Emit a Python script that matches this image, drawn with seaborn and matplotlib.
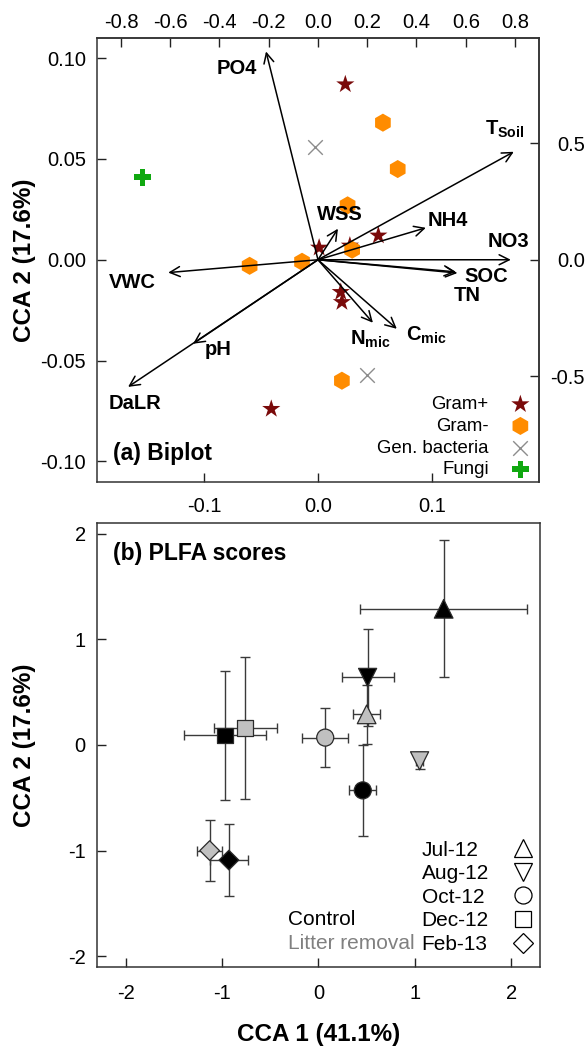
import matplotlib.pyplot as plt
import pandas as pd
import seaborn as sns
from matplotlib.lines import Line2D

# (a) Biplot: PLFA species scores (bottom / left axes)
gram_pos_x = [0.024, 0.001, 0.028, 0.053, 0.020, 0.021, -0.041]
gram_pos_y = [0.087, 0.006, 0.007, 0.012, -0.016, -0.021, -0.074]
gram_neg_x = [0.057, 0.070, 0.026, 0.030, -0.014, -0.060, 0.021]
gram_neg_y = [0.068, 0.045, 0.027, 0.005, -0.001, -0.003, -0.060]
gen_bact_x = [-0.003, 0.043]
gen_bact_y = [0.056, -0.057]
fungi_x = [-0.154]
fungi_y = [0.041]

# environmental vectors (top / right axes)
env_labels = ["PO4", r"$\mathbf{T_{Soil}}$", "WSS", "NH4", "NO3", "SOC", "TN",
              r"$\mathbf{N_{mic}}$", r"$\mathbf{C_{mic}}$", "VWC", "pH", "DaLR"]
env_x = [-0.211, 0.795, 0.081, 0.438, 0.783, 0.566, 0.560, 0.223, 0.320, -0.608, -0.507, -0.771]
env_y = [0.893, 0.463, 0.133, 0.137, 0.000, -0.057, -0.052, -0.270, -0.296, -0.055, -0.360, -0.545]
label_x = [-0.329, 0.759, 0.089, 0.529, 0.775, 0.684, 0.607, 0.211, 0.438, -0.755, -0.406, -0.742]
label_y = [0.820, 0.558, 0.193, 0.169, 0.077, -0.072, -0.153, -0.343, -0.326, -0.099, -0.386, -0.618]

# (b) PLFA scores, mean +- error per sampling date
months = ["Jul-12", "Aug-12", "Oct-12", "Dec-12", "Feb-13"]
ctrl_x = [1.30, 0.51, 0.46, -0.97, -0.93]
ctrl_y = [1.29, 0.64, -0.43, 0.09, -1.09]
ctrl_xerr = [0.87, 0.27, 0.14, 0.43, 0.20]
ctrl_yerr = [0.65, 0.46, 0.43, 0.61, 0.34]
litter_x = [0.50, 1.05, 0.07, -0.76, -1.13]
litter_y = [0.29, -0.15, 0.07, 0.16, -1.00]
litter_xerr = [0.14, 0.04, 0.24, 0.33, 0.13]
litter_yerr = [0.28, 0.08, 0.28, 0.67, 0.29]

# ratio between biplot axes (primary) and vector axes (secondary)
SX = 0.2162
SY = 0.1157

sns.set_style("ticks")
plt.rcParams["font.family"] = ["Liberation Sans", "DejaVu Sans"]
plt.rcParams["mathtext.fontset"] = "custom"
plt.rcParams["mathtext.rm"] = "Liberation Sans"
plt.rcParams["mathtext.bf"] = "Liberation Sans:bold"
plt.rcParams["axes.unicode_minus"] = False
plt.rcParams["text.color"] = "black"
plt.rcParams["axes.labelcolor"] = "black"

fig = plt.figure(figsize=(5.87, 10.47), dpi=100)
ax1 = fig.add_axes([0.1652, 0.5401, 0.7530, 0.4236])
ax2 = fig.add_axes([0.1652, 0.0767, 0.7547, 0.4235])

TICK = dict(direction="in", length=6.5, width=1, labelsize=14.5,
            color="#222222", labelcolor="black")
SPINE = "#333333"
LAB = dict(fontsize=17.5, fontweight="bold")

# ---------- (a) Biplot ----------
sns.scatterplot(x=gram_pos_x, y=gram_pos_y, marker="*", s=190, color="#7a0a0a",
                edgecolor="none", label="Gram+", ax=ax1, zorder=3)
sns.scatterplot(x=gram_neg_x, y=gram_neg_y, marker="h", s=170, color="#ff8c00",
                edgecolor="none", label="Gram-", ax=ax1, zorder=3)
sns.scatterplot(x=gen_bact_x, y=gen_bact_y, marker="x", s=110, color="#8c8c8c",
                linewidth=1, label="Gen. bacteria", ax=ax1, zorder=3)
sns.scatterplot(x=fungi_x, y=fungi_y, marker="P", s=150, color="#10a810",
                edgecolor="none", label="Fungi", ax=ax1, zorder=3)

for vx, vy, lab, tx, ty in zip(env_x, env_y, env_labels, label_x, label_y):
    ax1.annotate("", xy=(vx * SX, vy * SY), xytext=(0, 0),
                 arrowprops=dict(arrowstyle="->", lw=1.1, color="black",
                                 mutation_scale=18, shrinkA=0, shrinkB=0), zorder=4)
    ax1.text(tx * SX, ty * SY, lab, ha="center", va="center",
             fontsize=14.5, fontweight="bold", zorder=5)

ax1.set_xlim(-0.194, 0.194)
ax1.set_ylim(-0.110, 0.110)
ax1.set_xticks([-0.1, 0.0, 0.1])
ax1.set_xticklabels(["-0.1", "0.0", "0.1"])
ax1.set_yticks([-0.10, -0.05, 0.0, 0.05, 0.10])
ax1.set_yticklabels(["-0.10", "-0.05", "0.00", "0.05", "0.10"])
ax1.tick_params(axis="x", pad=11, **TICK)
ax1.tick_params(axis="y", pad=8, **TICK)
ax1.set_xlabel("")
ax1.set_ylabel("CCA 2 (17.6%)", **LAB)
ax1.yaxis.set_label_coords(-0.137, 0.5)

top = ax1.secondary_xaxis("top", functions=(lambda v: v / SX, lambda v: v * SX))
top.set_xticks([-0.8, -0.6, -0.4, -0.2, 0.0, 0.2, 0.4, 0.6, 0.8])
top.set_xticklabels(["-0.8", "-0.6", "-0.4", "-0.2", "0.0", "0.2", "0.4", "0.6", "0.8"])
top.tick_params(pad=4.5, **TICK)
right = ax1.secondary_yaxis("right", functions=(lambda v: v / SY, lambda v: v * SY))
right.set_yticks([-0.5, 0.0, 0.5])
right.set_yticklabels(["-0.5", "0.0", "0.5"])
right.tick_params(pad=33, **TICK)
plt.setp(right.get_yticklabels(), ha="right")
for sp in list(ax1.spines.values()) + [top.spines["top"], right.spines["right"]]:
    sp.set_color(SPINE)
    sp.set_linewidth(1.1)

ax1.legend(loc="lower right", markerfirst=False, frameon=False, fontsize=13.4,
           labelspacing=0.25, handletextpad=1.2, handlelength=1.0,
           borderpad=0.2, borderaxespad=0.3, bbox_to_anchor=(1.0, -0.0135))
ax1.text(0.036, 0.064, "(a) Biplot", transform=ax1.transAxes, fontsize=16.5,
         fontweight="bold", ha="left", va="center")

# ---------- (b) PLFA scores ----------
df = pd.DataFrame({
    "treatment": ["Control"] * 5 + ["Litter removal"] * 5,
    "month": months * 2,
    "x": ctrl_x + litter_x,
    "y": ctrl_y + litter_y,
    "xerr": ctrl_xerr + litter_xerr,
    "yerr": ctrl_yerr + litter_yerr,
})
marker_map = {"Jul-12": "^", "Aug-12": "v", "Oct-12": "o", "Dec-12": "s", "Feb-13": "D"}
size_map = {"Jul-12": 180, "Aug-12": 170, "Oct-12": 150, "Dec-12": 130, "Feb-13": 100}
fill_map = {"Control": "black", "Litter removal": "#c0c0c0"}

ax2.errorbar(df["x"], df["y"], xerr=df["xerr"], yerr=df["yerr"], fmt="none",
             ecolor="#3a3a3a", elinewidth=1, capsize=3.5, capthick=1, zorder=2)
sns.scatterplot(data=df, x="x", y="y", hue="treatment", style="month", size="month",
                markers=marker_map, sizes=size_map, palette=fill_map,
                edgecolor="#2a2a2a", linewidth=0.9, legend=False, ax=ax2, zorder=3)

ax2.set_xlim(-2.3, 2.3)
ax2.set_ylim(-2.1, 2.1)
ax2.set_xticks([-2, -1, 0, 1, 2])
ax2.set_yticks([-2, -1, 0, 1, 2])
ax2.tick_params(axis="x", pad=12.5, **TICK)
ax2.tick_params(axis="y", pad=8, **TICK)
ax2.set_xlabel("CCA 1 (41.1%)", labelpad=14, **LAB)
ax2.set_ylabel("CCA 2 (17.6%)", **LAB)
ax2.yaxis.set_label_coords(-0.137, 0.5)
for sp in ax2.spines.values():
    sp.set_color(SPINE)
    sp.set_linewidth(1.1)

# legend: open markers on the right, month names left aligned
LEG = dict(frameon=False, fontsize=15, labelspacing=0.22, borderpad=0.2)
handles = [Line2D([], [], linestyle="none", marker=marker_map[m],
                  markersize=size_map[m] ** 0.5, markerfacecolor="white",
                  markeredgecolor="black", markeredgewidth=0.9)
           for m in months]
leg_markers = ax2.legend(handles, [""] * len(months), loc="lower right",
                         markerfirst=False, handlelength=1.0, handletextpad=0,
                         borderaxespad=0.13, bbox_to_anchor=(1.0, 0.0135), **LEG)
ax2.add_artist(leg_markers)
blank = [Line2D([], [], linestyle="none") for _ in months]
ax2.legend(blank, months, loc="lower left", markerfirst=True, handlelength=0,
           handletextpad=0, borderaxespad=0.13, bbox_to_anchor=(0.7174, 0.0135), **LEG)

ax2.text(0.431, 0.106, "Control", transform=ax2.transAxes, fontsize=15,
         color="black", ha="left", va="center")
ax2.text(0.431, 0.052, "Litter removal", transform=ax2.transAxes, fontsize=15,
         color="#808080", ha="left", va="center")
ax2.text(0.036, 0.931, "(b) PLFA scores", transform=ax2.transAxes, fontsize=16.5,
         fontweight="bold", ha="left", va="center")

fig.savefig("out.png", dpi=100)
plt.close(fig)
